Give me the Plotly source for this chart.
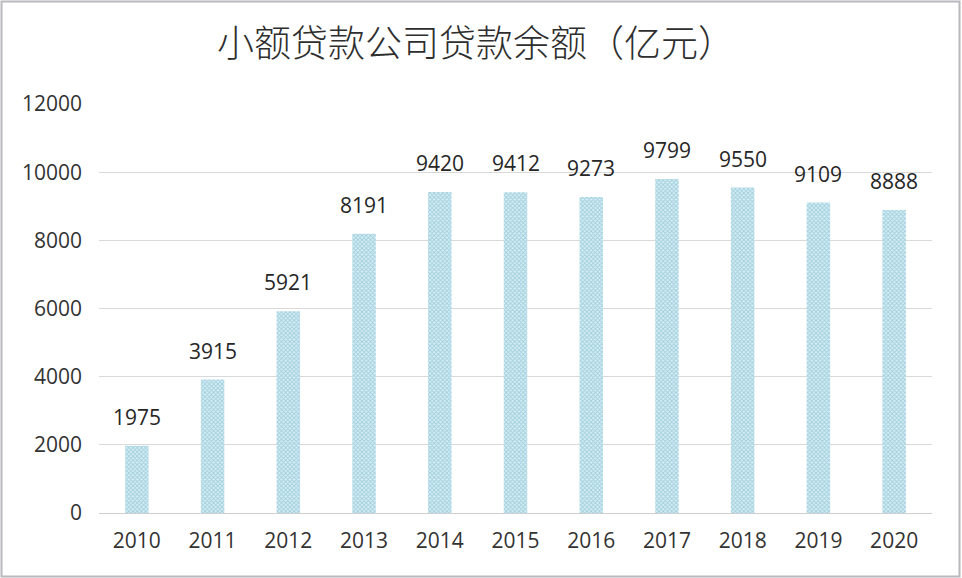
import plotly.graph_objects as go

years = ["2010", "2011", "2012", "2013", "2014", "2015", "2016", "2017", "2018", "2019", "2020"]
balances = [1975, 3915, 5921, 8191, 9420, 9412, 9273, 9799, 9550, 9109, 8888]
y_ticks = [0, 2000, 4000, 6000, 8000, 10000, 12000]
title_text = "小额贷款公司贷款余额（亿元）"

W, H = 962, 578
L, R, T, B = 99, 30, 104, 65

fig = go.Figure()
fig.add_trace(go.Bar(
    x=years, y=balances,
    marker=dict(
        color="#cdebf3",
        line=dict(width=0),
        pattern=dict(shape="x", fgcolor="#6aaec4", bgcolor="#d6eef5", size=3, solidity=0.5),
    ),
    width=0.31,
    hoverinfo="x+y",
))

for i, v in enumerate(balances):
    fig.add_annotation(x=i, y=v, text=str(v), showarrow=False, yanchor="bottom",
                       yshift=13, font=dict(size=21, color="#262626", family="Open Sans, Noto Sans, sans-serif"))

pw = W - L - R
ph = H - T - B
fig.add_shape(type="rect", xref="paper", yref="paper",
              x0=(1.5 - L) / pw, x1=(W - 2.5 - L) / pw,
              y0=-(H - 1.5 - T - ph) / ph, y1=1 + (T - 1.5) / ph,
              line=dict(color="#b8b8bd", width=2), layer="below")

fig.update_layout(
    width=W, height=H,
    margin=dict(l=L, r=R, t=T, b=B),
    paper_bgcolor="white", plot_bgcolor="white",
    title=dict(text=title_text, x=476 / W, xref="container", xanchor="center",
               y=1 - 44 / H, yanchor="middle",
               font=dict(size=37, color="#2e2e2e", family="Noto Sans CJK SC", weight=300)),
    showlegend=False,
    font=dict(family="Open Sans, Noto Sans, sans-serif"),
)
fig.update_xaxes(type="category", range=[-0.5, 10.5], showgrid=False, showline=False,
                 ticks="", tickfont=dict(size=21, color="#333333"), ticklabelstandoff=13)
fig.update_yaxes(range=[0, 12000], tickvals=y_ticks, tickformat="d", showgrid=True,
                 gridcolor="#d9d9d9", gridwidth=1,
                 zeroline=True, zerolinecolor="#cfcfcf", zerolinewidth=1,
                 ticks="", tickfont=dict(size=21, color="#333333"), ticklabelstandoff=16)

fig.write_html("out.html", config={"displayModeBar": False},
               post_script="document.body.style.margin='0';document.body.style.overflow='hidden';")
